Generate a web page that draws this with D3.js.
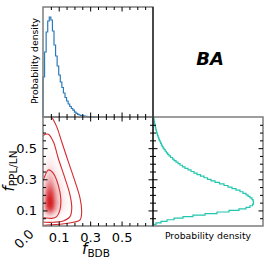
<!DOCTYPE html>
<html>
<head>
<meta charset="utf-8">
<script src="https://cdn.jsdelivr.net/npm/d3@7"></script>
<style>
  body { margin: 0; background: #fff; }
  svg { display: block; font-family: "DejaVu Sans", sans-serif; }
</style>
</head>
<body>
<div id="chart"></div>
<script>
// histogram bin width, both parameters
const binWidth = 0.01;

// marginal of f_BDB (bins of 0.01 starting at 0), arbitrary density units
const fBDB = [40, 65, 85, 96, 100, 97, 86, 72, 61, 51,
  42, 35, 29.5, 24, 19.5, 16, 13, 10.5, 8.5, 6.8,
  4.8, 3.6, 2.7, 2.0, 1.5, 1.1, 0.8, 0.6, 0.45, 0.3,
  0.2, 0.12, 0.06];

// marginal of f_PPL/LN (bins of 0.01 starting at 0)
const fPPL = [0.5, 3, 8, 14, 21, 30, 40, 52, 64, 76,
  86, 93, 97, 99.5, 100.5, 100.5, 100, 99, 97, 95,
  93, 90, 87, 83, 79, 75, 71, 66.5, 62, 58,
  54.5, 51, 47.5, 44, 41, 38, 35, 32, 29.5, 27,
  25, 23, 21, 19.5, 17.5, 16, 14.7, 13.4, 12.2, 11.1,
  10.1, 9.2, 8.4, 7.7, 7, 6.3, 5.7, 5.1, 4.6, 4.1,
  3.6, 3.2, 2.8, 2.4, 2.1, 1.8, 1.5, 1.2, 1.0, 0.8];

// credible contours of the joint posterior, [f_BDB, f_PPL/LN]
const contourOuter = [[0.046, 0.72], [0.055, 0.702], [0.087, 0.638], [0.119, 0.541], [0.161, 0.413],
  [0.204, 0.285], [0.236, 0.178], [0.246, 0.092], [0.236, 0.039], [0.193, 0.024],
  [0.108, 0.011], [0.024, 0.006], [0, 0.004]];
const contourMiddle = [[0, 0.575], [0.006, 0.584], [0.034, 0.589], [0.066, 0.541], [0.097, 0.435],
  [0.140, 0.306], [0.172, 0.199], [0.183, 0.114], [0.172, 0.060], [0.129, 0.032],
  [0.066, 0.024], [0.013, 0.024], [0, 0.025]];
const contourInner = [[0, 0.29], [0.006, 0.306], [0.034, 0.360], [0.066, 0.338], [0.097, 0.263],
  [0.113, 0.178], [0.108, 0.103], [0.087, 0.060], [0.055, 0.049], [0.013, 0.053], [0, 0.055]];

const majorTicks = [0.1, 0.3, 0.5];
const minorTicks = [0.05, 0.15, 0.2, 0.25, 0.35, 0.4, 0.45, 0.55, 0.6, 0.65];
const paramDomain = [0, 0.7];
const densityDomain = [0, 110];

const WIDTH = 274, HEIGHT = 260;
const xLeft = 43, xMid = 153, xRight = 263;
const yTop = 7, yRow = 117, yBottom = 226;

const svg = d3.select('#chart').append('svg').attr('width', WIDTH).attr('height', HEIGHT);

let x = d3.scaleLinear().domain(paramDomain).range([xLeft, xMid]);
let y = d3.scaleLinear().domain(paramDomain).range([yBottom, yRow]);
let xDens = d3.scaleLinear().domain(densityDomain).range([xMid, xRight]);
let yDens = d3.scaleLinear().domain(densityDomain).range([yRow, yTop]);

svg.append('clipPath').attr('id', 'clip2d')
  .append('rect').attr('x', xLeft).attr('y', yRow).attr('width', xMid - xLeft).attr('height', yBottom - yRow);

// ---- joint density shading (built from the two marginals)
const nx = fPPL.length, ny = fPPL.length;
const grid = new Float64Array(nx * ny);
for (let j = 0; j < ny; j++) {
  for (let i = 0; i < nx; i++) {
    grid[j * nx + i] = (fBDB[i] || 0) * fPPL[j];
  }
}
const vmax = d3.max(grid);
const shade = d3.scalePow().exponent(1.8).domain([0, vmax]).range(['#ffffff', '#d41a20']);
const shadeLevels = d3.range(1, 60).map((k) => (k / 60) * vmax);
const bands = d3.contours().size([nx, ny]).thresholds(shadeLevels)(grid);
const gridProj = d3.geoTransform({
  point(gx, gy) { this.stream.point(x(gx * binWidth), y(gy * binWidth)); }
});
const bandPath = d3.geoPath(gridProj);

const joint = svg.append('g').attr('clip-path', 'url(#clip2d)');
joint.selectAll('path.band').data(bands).join('path')
  .attr('class', 'band')
  .attr('d', bandPath)
  .attr('fill', (d) => shade(d.value))
  .attr('stroke', (d) => shade(d.value))
  .attr('stroke-width', 0.3);

const contourLine = d3.line().x((d) => x(d[0])).y((d) => y(d[1])).curve(d3.curveCatmullRom.alpha(0.5));
joint.selectAll('path.level').data([contourOuter, contourMiddle, contourInner]).join('path')
  .attr('class', 'level')
  .attr('d', contourLine)
  .attr('fill', 'none')
  .attr('stroke', '#d42a2f')
  .attr('stroke-width', 1.1);

// ---- step histograms
function stepPoints(values) {
  const pts = [[0, 0]];
  values.forEach((v, i) => {
    pts.push([i * binWidth, v]);
    pts.push([(i + 1) * binWidth, v]);
  });
  pts.push([values.length * binWidth, 0]);
  return pts;
}

svg.append('path')
  .datum(stepPoints(fBDB))
  .attr('d', d3.line().x((d) => x(d[0])).y((d) => yDens(d[1])))
  .attr('fill', 'none')
  .attr('stroke', '#2b7bba')
  .attr('stroke-width', 1.2);

svg.append('path')
  .datum(stepPoints(fPPL))
  .attr('d', d3.line().x((d) => xDens(d[1])).y((d) => y(d[0])))
  .attr('fill', 'none')
  .attr('stroke', '#22c6ae')
  .attr('stroke-width', 1.2);

// ---- frames
[[xLeft, yTop, xMid, yRow], [xLeft, yRow, xMid, yBottom], [xMid, yRow, xRight, yBottom]].forEach(([x0, y0, x1, y1]) => {
  svg.append('rect').attr('x', x0).attr('y', y0).attr('width', x1 - x0).attr('height', y1 - y0)
    .attr('fill', 'none').attr('stroke', '#7d7d7d').attr('stroke-width', 1.5);
});
svg.append('line').attr('x1', xMid).attr('x2', xMid).attr('y1', yTop).attr('y2', yBottom)
  .attr('stroke', '#111').attr('stroke-width', 1.2);

// ---- ticks (inside the frames)
function ticks(axisFn, scale, pos, isX, labelled) {
  const place = isX ? `translate(0,${pos})` : `translate(${pos},0)`;
  const g1 = svg.append('g').attr('transform', place)
    .call(axisFn(scale).tickValues(minorTicks).tickSize(-3).tickFormat(''));
  const g2 = svg.append('g').attr('transform', place)
    .call(axisFn(scale).tickValues(majorTicks).tickSize(-4.5)
      .tickPadding(isX ? 7 : 6)
      .tickFormat(labelled ? d3.format('.1f') : ''));
  [g1, g2].forEach((g) => {
    g.select('.domain').remove();
    g.selectAll('line').attr('stroke', '#000').attr('stroke-width', 1);
    g.attr('font-family', null).attr('font-size', 13);
  });
}

ticks(d3.axisTop, x, yTop, true, false);
ticks(d3.axisBottom, x, yRow, true, false);
ticks(d3.axisTop, x, yRow, true, false);
ticks(d3.axisBottom, x, yBottom, true, true);
ticks(d3.axisLeft, y, xLeft, false, true);
ticks(d3.axisRight, y, xMid, false, false);
ticks(d3.axisLeft, y, xMid, false, false);
ticks(d3.axisRight, y, xRight, false, false);

svg.append('text')
  .attr('transform', 'translate(24,239) rotate(-45)')
  .attr('text-anchor', 'middle').attr('dominant-baseline', 'central')
  .attr('font-size', 13).text('0.0');

// ---- labels
const xLab = svg.append('text').attr('x', 96).attr('y', 254).attr('text-anchor', 'middle');
xLab.append('tspan').attr('font-style', 'italic').attr('font-size', 15).text('f');
xLab.append('tspan').attr('font-size', 10.5).attr('dy', 3).text('BDB');

const yLab = svg.append('text').attr('transform', 'translate(14,171) rotate(-90)').attr('text-anchor', 'middle');
yLab.append('tspan').attr('font-style', 'italic').attr('font-size', 15).text('f');
yLab.append('tspan').attr('font-size', 10.5).attr('dy', 3).text('PPL/LN');

svg.append('text').attr('transform', 'translate(38,61) rotate(-90)')
  .attr('text-anchor', 'middle').attr('font-size', 9.3).text('Probability density');
svg.append('text').attr('x', 208).attr('y', 239)
  .attr('text-anchor', 'middle').attr('font-size', 9.3).text('Probability density');

svg.append('text').attr('x', 210).attr('y', 65)
  .attr('text-anchor', 'middle').attr('font-size', 18)
  .attr('font-weight', 'bold').attr('font-style', 'italic').text('BA');
</script>
</body>
</html>
